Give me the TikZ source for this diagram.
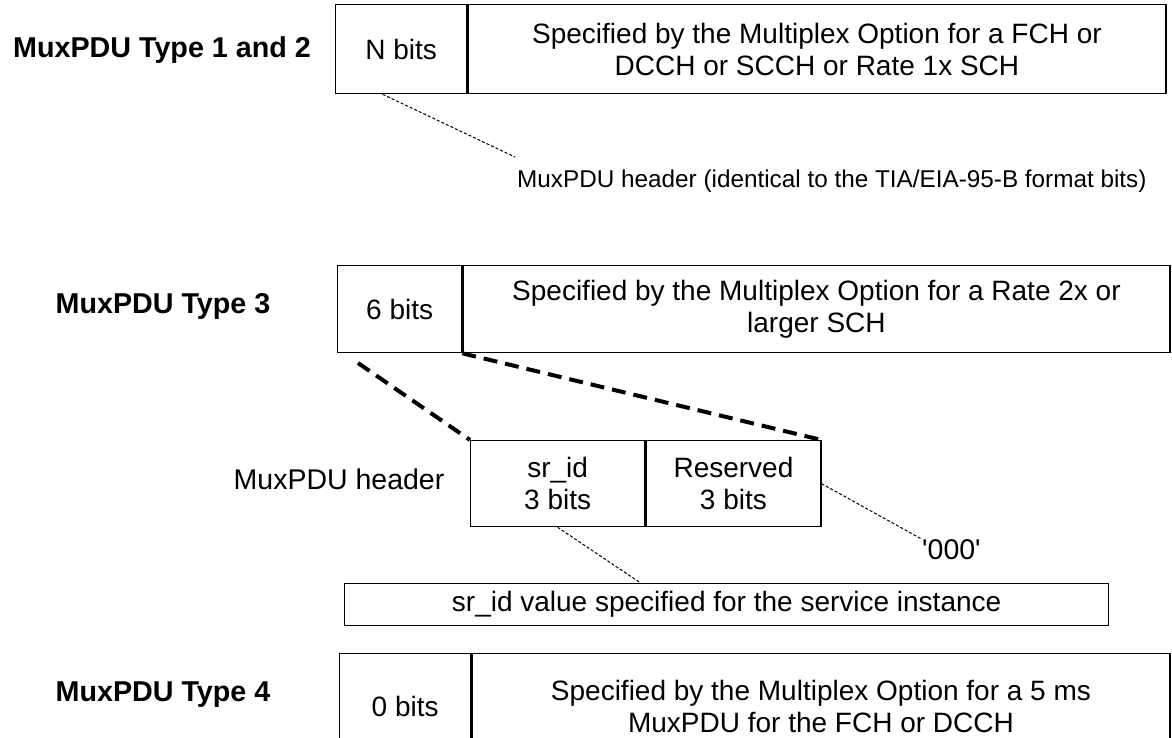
\documentclass[tikz,border=0pt]{standalone}
\usepackage{fontspec}
\setmainfont{Liberation Sans}
\usetikzlibrary{positioning, calc}

\begin{document}
\begin{tikzpicture}[
    x=1pt, y=-1pt,
    field/.style={draw, line width=1.3pt, anchor=north west, inner sep=0pt, align=center, font=\fontsize{28}{32}\selectfont},
    tag/.style={font=\fontsize{28.7}{32}\selectfont\bfseries},
    note/.style={inner sep=1pt, font=\fontsize{28.5}{32}\selectfont},
    lead/.style={line width=1pt, dash pattern=on 3pt off 2pt},
    zoomline/.style={line width=4pt, dash pattern=on 14pt off 8pt}
]
    \useasboundingbox (0,0) rectangle (1172,738);

    % MuxPDU Type 1 and 2
    \node[tag] (typea) at (162,50) {MuxPDU Type 1 and 2};
    \node[field, minimum width=131, minimum height=89] (nbits) at (335,4) {N bits};
    \node[field, minimum width=698, minimum height=89, anchor=west, right=0pt of nbits] (loada) {Specified by the Multiplex Option for a FCH or\\DCCH or SCCH or Rate 1x SCH};
    \node[note, font=\fontsize{24.3}{30}\selectfont, anchor=west] (hdra) at (516,181) {MuxPDU header (identical to the TIA/EIA-95-B format bits)};
    \coordinate (hdratip) at (515,157);
    \draw[lead] ($(nbits.south west)!0.36!(nbits.south east)$) -- (hdratip);

    % MuxPDU Type 3
    \node[tag] (typeb) at (163,306) {MuxPDU Type 3};
    \node[field, minimum width=124, minimum height=87] (sixbits) at (337,265) {6 bits};
    \node[field, minimum width=707, minimum height=87, anchor=west, right=0pt of sixbits] (loadb) {Specified by the Multiplex Option for a Rate 2x or\\larger SCH};

    % Header detail
    \node[field, minimum width=174, minimum height=86] (srid) at (470,440) {sr\_id\\3 bits};
    \node[field, minimum width=175, minimum height=86, anchor=west, right=0pt of srid] (resv) {Reserved\\3 bits};
    \node[note] (hdrb) at (339,479) {MuxPDU header};
    \coordinate (zoomstart) at (358,363);
    \draw[zoomline] (zoomstart) -- (srid.north west);
    \draw[zoomline] (sixbits.south east) -- (resv.north east);

    \node[note, anchor=west] (zeros) at (921,550) {\textquotesingle000\textquotesingle};
    \draw[lead] (resv.east) -- (zeros.north west);

    \node[field, minimum width=764, minimum height=42] (srval) at (344,583) {sr\_id value specified for the service instance};
    \draw[lead] (srid.south) -- ($(srval.north)+(-86,0)$);

    % MuxPDU Type 4
    \node[tag] (typec) at (163,695) {MuxPDU Type 4};
    \node[field, minimum width=131, minimum height=106] (zerobits) at (339,653) {0 bits};
    \node[field, minimum width=698, minimum height=106, anchor=west, right=0pt of zerobits] (loadc) {Specified by the Multiplex Option for a 5 ms\\MuxPDU for the FCH or DCCH};
\end{tikzpicture}
\end{document}
